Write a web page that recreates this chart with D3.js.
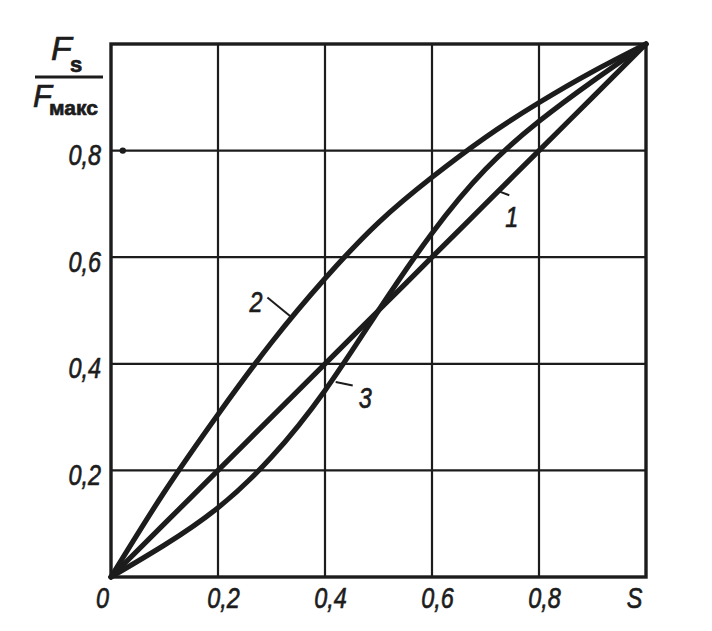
<!DOCTYPE html>
<html><head><meta charset="utf-8">
<script src="https://cdn.jsdelivr.net/npm/d3@7"></script>
<style>
html,body{margin:0;padding:0;background:#fff;}
svg{display:block;}
text{font-family:"Liberation Sans",Arial,sans-serif;fill:#1c1c1c;stroke:#1c1c1c;stroke-width:0.7px;}
</style></head>
<body>
<svg id="chart" width="712" height="631"></svg>
<script>
// ---- data ----
const xs = [0, 0.1, 0.2, 0.3, 0.4, 0.5, 0.6, 0.7, 0.8, 0.9, 1.0];
const curve1 = [0, 0.1, 0.2, 0.3, 0.4, 0.5, 0.6, 0.7, 0.8, 0.9, 1.0];
const curve2 = [0, 0.16, 0.305, 0.44, 0.56, 0.665, 0.75, 0.825, 0.89, 0.948, 1.0];
const curve3 = [0, 0.06, 0.13, 0.225, 0.35, 0.5, 0.645, 0.765, 0.855, 0.93, 1.0];
const curveNames = ["1", "2", "3"];
const xTickValues = [0, 0.2, 0.4, 0.6, 0.8, 1.0];
const xTickLabels = ["0", "0,2", "0,4", "0,6", "0,8", "S"];
const yTickValues = [0.2, 0.4, 0.6, 0.8];
const yTickLabels = ["0,2", "0,4", "0,6", "0,8"];
// label anchors (data coords): point on curve, label position
const labelAnchors = [
  {name: "1", px: 0.724, py: 0.724, lx: 0.737, ly: 0.675},
  {name: "2", px: 0.338, py: 0.487, lx: 0.283, ly: 0.515},
  {name: "3", px: 0.42, py: 0.366, lx: 0.463, ly: 0.335}
];

const ink = "#1c1c1c";
const K = 0.78; // horizontal condensing of lettering
const svg = d3.select("#chart");
const x = d3.scaleLinear().domain([0, 1]).range([111, 646]);
const y = d3.scaleLinear().domain([0, 1]).range([577, 44]);

// grid lines
const grid = svg.append("g");
grid.selectAll("line.v").data([0.2, 0.4, 0.6, 0.8]).enter().append("line")
  .attr("x1", d => x(d)).attr("x2", d => x(d)).attr("y1", y(0)).attr("y2", y(1))
  .attr("stroke", ink).attr("stroke-width", 2.2);
grid.selectAll("line.h").data(yTickValues).enter().append("line")
  .attr("y1", d => y(d)).attr("y2", d => y(d)).attr("x1", x(0)).attr("x2", x(1))
  .attr("stroke", ink).attr("stroke-width", 2.2);

// frame
svg.append("rect").attr("x", x(0)).attr("y", y(1))
  .attr("width", x(1) - x(0)).attr("height", y(0) - y(1))
  .attr("fill", "none").attr("stroke", ink).attr("stroke-width", 3.4);

// small dot on the 0.8 line
svg.append("circle").attr("cx", x(0.022)).attr("cy", y(0.8)).attr("r", 3.2).attr("fill", ink);

// axes (labels only)
const xAxis = d3.axisBottom(x).tickValues(xTickValues)
  .tickFormat((d, i) => xTickLabels[i]).tickSize(0).tickPadding(0);
const gx = svg.append("g").attr("transform", `translate(0,${y(0)})`).call(xAxis);
gx.select(".domain").remove();
gx.selectAll("text")
  .attr("y", 31).attr("dy", 0).attr("x", 0)
  .attr("dx", (d, i) => (i === 0 ? -9 : (i === xTickValues.length - 1 ? -12 : 5)) / K)
  .attr("transform", `scale(${K},1)`)
  .style("font-size", "30px").style("font-style", "italic")
  .attr("text-anchor", "middle");

const yAxis = d3.axisLeft(y).tickValues(yTickValues)
  .tickFormat((d, i) => yTickLabels[i]).tickSize(0).tickPadding(0);
const gy = svg.append("g").attr("transform", `translate(${x(0)},0)`).call(yAxis);
gy.select(".domain").remove();
gy.selectAll("text")
  .attr("x", -10 / K).attr("dy", 14)
  .attr("transform", `scale(${K},1)`)
  .style("font-size", "30px").style("font-style", "italic")
  .attr("text-anchor", "end");

// curves
const line = d3.line().x((d, i) => x(xs[i])).y(d => y(d)).curve(d3.curveNatural);
[curve1, curve2, curve3].forEach(c => {
  svg.append("path").attr("d", line(c)).attr("fill", "none")
    .attr("stroke", ink).attr("stroke-width", 5.2).attr("stroke-linecap", "round");
});

// curve labels with leader lines
labelAnchors.forEach(a => {
  const lx = x(a.lx), ly = y(a.ly);
  let sx, sy;
  if (a.name === "1") { sx = lx + 4; sy = ly - 22; }
  else if (a.name === "2") { sx = lx + 5; sy = ly - 5; }
  else { sx = lx - 6; sy = ly - 13; }
  svg.append("line").attr("x1", sx).attr("y1", sy).attr("x2", x(a.px)).attr("y2", y(a.py))
    .attr("stroke", ink).attr("stroke-width", 2);
  svg.append("text").attr("x", lx / K).attr("y", ly).attr("dy", 10)
    .attr("transform", `scale(${K},1)`)
    .attr("text-anchor", a.name === "2" ? "end" : "start")
    .style("font-size", "30px").style("font-style", "italic").text(a.name);
});

// y-axis title: F_S / F_макс
const t = svg.append("g");
t.append("text").attr("x", 51).attr("y", 60).style("font-size", "34px").style("font-style", "italic").text("F");
t.append("text").attr("x", 70).attr("y", 72).style("font-size", "22px").style("font-weight", "bold").text("s");
t.append("line").attr("x1", 35).attr("x2", 103).attr("y1", 77).attr("y2", 77)
  .attr("stroke", ink).attr("stroke-width", 3);
t.append("text").attr("x", 33).attr("y", 107).style("font-size", "31px").style("font-style", "italic").text("F");
t.append("text").attr("x", 49).attr("y", 115).style("font-size", "21px").style("font-weight", "bold").text("макс");
</script>
</body></html>
